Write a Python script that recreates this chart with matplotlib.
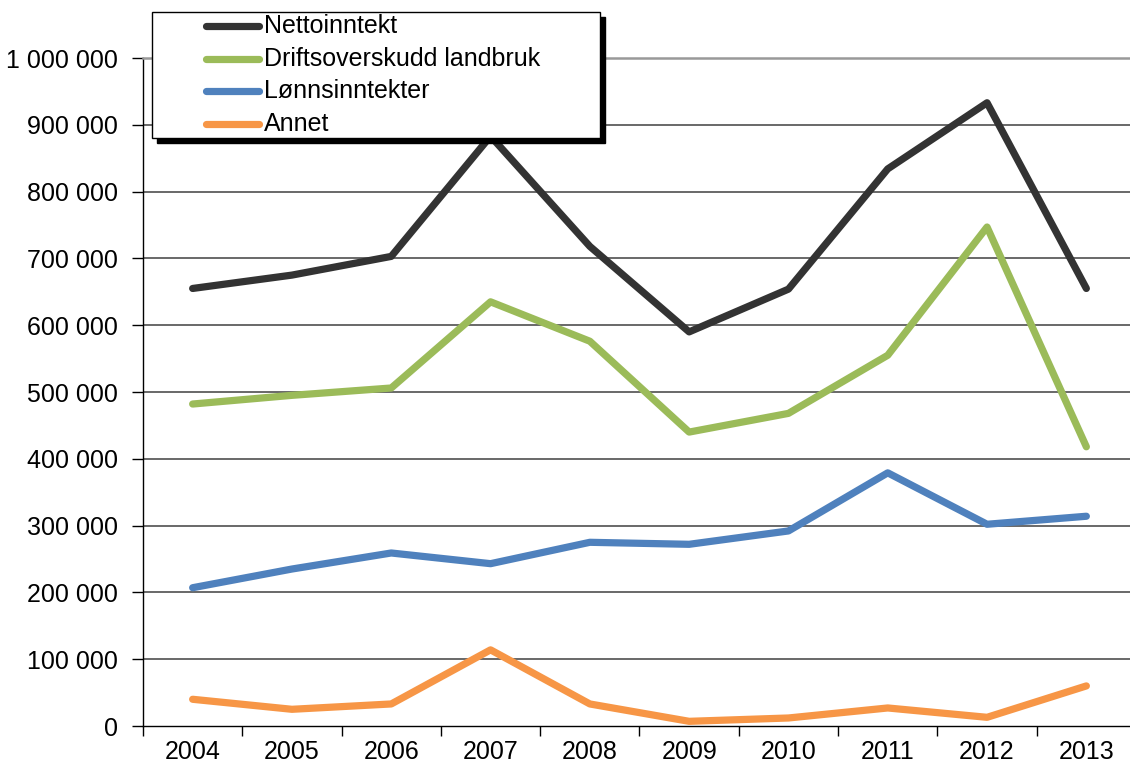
import matplotlib.pyplot as plt
from matplotlib.patches import Rectangle
from matplotlib.lines import Line2D
from matplotlib.ticker import FuncFormatter

plt.rcParams['font.family'] = ['Liberation Sans', 'DejaVu Sans']

years = ['2004', '2005', '2006', '2007', '2008', '2009', '2010', '2011', '2012', '2013']
netto = [655000, 675000, 703000, 883000, 718000, 590000, 654000, 834000, 933000, 655000]
drift = [482000, 495000, 506000, 635000, 576000, 440000, 468000, 555000, 747000, 418000]
lonn = [207000, 235000, 259000, 243000, 275000, 272000, 292000, 379000, 302000, 314000]
annet = [40000, 25000, 33000, 114000, 33000, 7000, 12000, 27000, 13000, 60000]

serier = [netto, drift, lonn, annet]
navn = ['Nettoinntekt', 'Driftsoverskudd landbruk', 'Lønnsinntekter', 'Annet']
farger = ['#333333', '#9BBB59', '#4F81BD', '#F79646']

W, H = 1130, 769
fs = 18
fig = plt.figure(figsize=(W / 100, H / 100), dpi=100)
ax = fig.add_axes([143 / W, (H - 726) / H, (1136 - 143) / W, (726 - 58) / H])

x = list(range(len(years)))
for data, farge in zip(serier, farger):
    ax.plot(x, data, color=farge, lw=5.2, solid_capstyle='round', solid_joinstyle='round', zorder=3)

ax.set_xlim(-0.5, len(years) - 0.5)
ax.set_ylim(0, 1000000)
ax.set_yticks(range(0, 1000001, 100000))
ax.yaxis.set_major_formatter(FuncFormatter(lambda v, p: f'{int(v):,}'.replace(',', ' ')))
ax.set_xticks([i - 0.5 for i in range(len(years) + 1)])
ax.set_xticklabels([])
ax.set_xticks(x, minor=True)
ax.set_xticklabels(years, minor=True)
ax.tick_params(axis='x', which='minor', length=0, labelsize=fs, pad=10)
ax.tick_params(axis='x', which='major', length=7, width=1, direction='out')
ax.tick_params(axis='y', length=8, width=1, labelsize=fs, pad=10)

for v in range(100000, 1000000, 100000):
    ax.axhline(v, color='#404040', lw=1.1, zorder=1)
ax.spines['top'].set_color('#999999')
ax.spines['top'].set_linewidth(1.8)
ax.spines['right'].set_visible(False)
ax.spines['left'].set_linewidth(1)
ax.spines['bottom'].set_linewidth(1)

# forklaring med skygge, tegnet manuelt
def fx(px):
    return px / W

def fy(py):
    return 1 - py / H

fig.add_artist(Rectangle((fx(157), fy(143)), fx(448), 126 / H, transform=fig.transFigure,
                         facecolor='black', edgecolor='black', zorder=10))
fig.add_artist(Rectangle((fx(152), fy(138)), fx(448), 126 / H, transform=fig.transFigure,
                         facecolor='white', edgecolor='black', lw=1, zorder=11))
for i, (n, farge) in enumerate(zip(navn, farger)):
    yy = fy(26 + i * 32.7)
    fig.add_artist(Line2D([fx(206), fx(259)], [yy, yy], transform=fig.transFigure, color=farge,
                          lw=5.2, solid_capstyle='round', zorder=12))
    fig.text(fx(264), yy, n, fontsize=fs, va='center', ha='left', zorder=12)

fig.savefig('out.png', dpi=100)
